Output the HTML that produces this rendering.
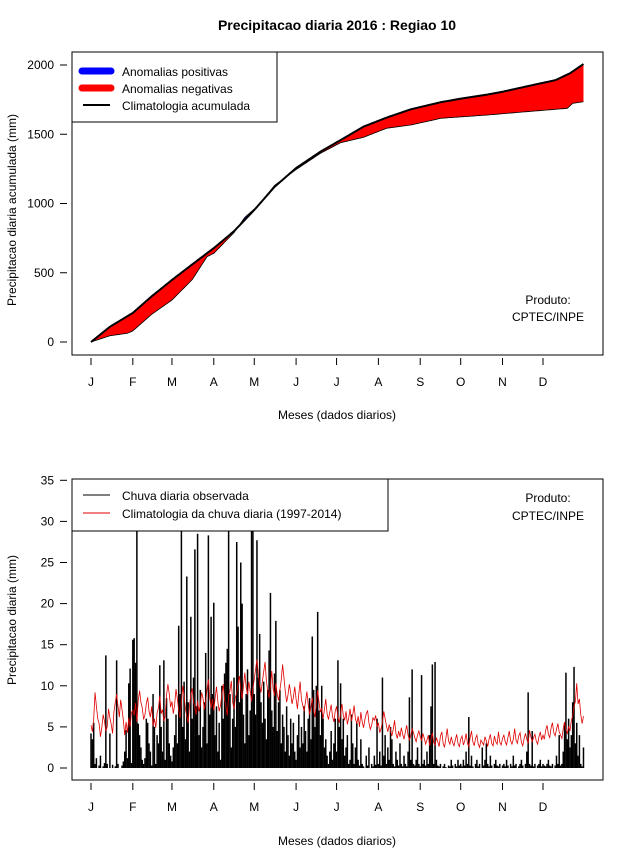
<!DOCTYPE html>
<html><head><meta charset="utf-8">
<style>
body{margin:0;background:#fff;}
svg{display:block;font-family:"Liberation Sans",Arial,sans-serif;}
</style></head>
<body>
<svg id="chart" width="640" height="850" viewBox="0 0 640 850" xmlns="http://www.w3.org/2000/svg">
<rect x="0" y="0" width="640" height="850" fill="#fff"/>
<text x="337" y="30" text-anchor="middle" font-size="14" font-weight="bold">Precipitacao diaria 2016 : Regiao 10</text>
<g id="top"></g>
<g id="bot"></g>
</svg>
<script>
// ---- top chart data (cumulative, mm) ----
const climDays=[1,15,32,46,61,76,92,107,122,137,153,171,186,203,220,238,260,275,295,306,332,345,356,366];
const climCum=[0,110,210,330,448,560,678,800,953,1120,1256,1374,1458,1555,1620,1680,1731,1757,1787,1807,1863,1890,1940,2007];
const obsDays=[1,15,28,32,46,61,76,87,92,107,115,122,125,137,153,171,186,203,220,238,255,260,295,324,354,358,366];
const obsCum=[0,45,63,80,200,303,450,616,640,790,900,960,985,1130,1245,1362,1439,1478,1543,1567,1603,1615,1639,1663,1687,1723,1735];
const topTicks=[0,500,1000,1500,2000];
const months=["J","F","M","A","M","J","J","A","S","O","N","D"];
const monthStart=[1,32,61,92,122,153,183,214,245,275,306,336];
// ---- bottom chart data (daily, mm) ----
const obsDaily=[
4.2,3.5,5.5,0.5,1.2,0,0.3,1.5,0,0.2,0.6,13.7,0.5,0,4.2,0,0.4,0,0.2,13.1,0.5,0,0,0.3,0.8,2.0,4.6,1.2,10.3,12.1,0.6,
15.6,15.8,12.8,40,5.4,4.0,2.5,1.0,0.5,1.2,6.0,5.5,3.0,2.0,0.3,9.0,5.0,0.5,4.0,3.0,12.5,5.0,2.0,13.1,1.0,8.5,6.0,3.0,1.5,
0.8,2.5,4.0,6.5,3.0,17.3,9.0,40,5.0,10.5,3.5,23.3,8.0,2.0,18.4,6.0,11.0,26.6,7.5,28.5,4.0,9.5,2.5,5.0,8.0,14.0,3.0,28.3,6.5,18.4,9.0,
20.1,4.0,7.5,2.0,5.5,1.0,10.0,6.0,11.5,12.8,14.5,40,9.0,2.5,6.0,11.0,5.0,27.5,17.2,8.0,25.0,20.0,6.5,3.0,9.0,12.0,4.0,7.0,40,40,
9.0,6.5,27.7,11.0,16.3,8.0,5.5,10.5,6.0,3.5,9.5,14.3,21.3,7.0,5.0,11.5,17.9,4.5,8.0,9.5,3.0,6.5,5.0,2.0,7.5,4.0,1.5,6.0,3.0,5.5,2.0,
1.0,4.0,6.5,2.5,5.0,3.0,7.5,4.5,2.0,6.0,8.5,3.5,16.0,9.5,5.0,10.0,19.0,7.0,4.0,10.0,6.0,2.5,3.5,1.5,0.5,2.0,4.5,1.0,3.0,6.0,
2.0,13.1,5.0,10.3,3.5,6.0,1.5,2.5,4.0,0.5,1.0,6.5,3.0,0.5,2.5,5.5,1.0,0.3,3.5,0.5,0.2,0,1.5,0.3,2.5,0,0.5,0.2,1.5,0.4,6.0,
0.5,2.0,0.3,11.0,1.5,4.0,0.5,2.5,1.0,5.0,3.5,0.5,0.2,2.0,1.0,0.3,3.0,0.5,0.2,1.5,0.5,0.2,2.0,8.6,1.0,12.0,0.5,0.3,1.0,2.5,0.5,
0.2,11.3,0.5,1.0,0.3,2.0,0.5,4.0,7.5,12.6,0.5,12.9,1.0,0.3,0.2,0.5,0,0.2,0.5,0.1,0,0.3,0.2,1.0,0.3,0,0.5,0.2,1.0,0.3,
0.5,0.2,1.0,0.3,2.0,0.5,6.2,0.3,1.5,0.2,0,0.5,1.0,0.2,0.5,0,2.5,0.3,1.0,3.0,0.5,0.2,1.5,0.3,0,0.5,1.0,0.3,0.2,0.5,0,
0.3,0.5,0.2,1.0,0.3,0,0.5,0.2,1.5,0.3,0.5,0,0.2,0.5,1.0,0.3,0,0.5,2.0,9.2,0.5,0.3,4.5,0.2,0.5,0,0.3,0.5,1.0,0.2,
0.5,0.3,0.2,0.5,1.0,0.3,0.2,0.5,0,0.3,1.5,0.5,4.0,0.3,0.5,2.0,5.5,11.6,3.5,6.0,2.5,4.0,8.0,12.3,3.0,5.5,1.5,4.0,0.5,0.2,2.5];
const climDaily=[
5.2,4.4,6.0,9.2,7.5,6.0,5.4,3.8,4.9,6.5,5.7,4.5,5.0,7.2,6.1,5.3,4.2,6.8,8.0,9.0,7.5,6.2,8.3,7.1,5.8,4.0,5.6,4.3,6.1,5.0,6.8,
7.0,6.4,7.9,5.6,8.2,9.4,8.0,7.3,5.9,6.5,7.8,8.6,6.9,6.2,7.5,5.1,6.0,4.9,6.7,7.3,8.8,6.6,7.1,5.7,6.3,8.9,10.2,9.0,7.4,
8.1,6.6,7.7,9.6,8.4,7.0,6.1,7.9,10.0,8.8,7.2,6.3,5.5,7.6,8.9,9.7,8.0,7.4,6.5,8.2,6.9,7.7,9.2,8.5,7.1,8.0,9.6,10.8,8.7,7.3,8.4,
7.0,8.5,9.9,8.1,6.9,7.6,9.0,10.2,8.3,7.5,6.4,8.8,9.4,10.6,8.0,7.2,8.6,9.1,10.3,11.2,9.5,8.4,10.0,11.6,9.8,8.9,10.5,9.3,8.1,9.7,
10.8,12.0,13.2,11.4,10.1,9.2,10.5,11.7,12.9,10.6,9.4,8.5,10.0,11.8,9.6,8.8,10.3,9.0,8.2,9.5,10.7,12.6,11.0,9.3,8.0,8.9,10.2,9.1,7.8,8.6,9.9,
8.4,7.2,9.0,10.5,8.3,7.6,6.9,8.1,9.3,7.7,6.5,7.4,8.6,7.0,6.2,7.9,9.5,8.0,6.8,7.3,6.0,7.1,8.4,6.6,5.9,6.8,7.7,6.3,5.6,6.9,
7.5,6.2,5.5,6.7,7.8,6.4,5.8,6.9,5.3,6.1,7.2,5.7,6.5,7.6,6.0,5.4,6.3,5.0,6.8,5.6,4.9,5.9,6.6,7.0,5.5,4.7,5.2,6.1,5.8,6.4,5.0,
5.5,4.3,4.8,5.6,6.9,6.0,5.1,4.4,5.3,4.6,3.9,4.7,5.8,4.2,3.6,4.5,3.8,4.9,4.1,3.5,4.4,5.2,4.0,3.4,3.9,4.8,4.3,3.7,3.2,4.0,4.5,
3.8,3.3,4.2,3.6,2.9,3.4,4.0,2.7,3.5,4.3,3.1,2.8,3.7,3.2,2.6,3.9,4.4,3.0,2.5,3.6,4.8,3.3,2.9,3.8,3.1,2.7,3.4,4.1,3.0,2.6,
3.5,3.9,2.8,3.3,4.2,3.0,2.6,3.7,4.5,3.2,2.7,3.6,4.0,2.9,2.5,3.4,3.1,2.8,3.8,3.3,2.6,3.5,4.1,3.0,2.7,3.9,3.2,2.9,4.4,3.1,2.8,
3.6,4.0,3.2,2.8,3.7,4.5,3.3,2.9,3.5,4.8,3.4,3.0,3.9,4.3,3.1,2.7,3.6,4.2,3.5,3.0,4.6,3.8,3.2,3.7,4.1,3.3,2.9,3.8,4.4,3.4,
4.0,3.5,4.6,5.2,4.1,3.7,4.9,5.5,4.3,3.9,4.7,5.4,4.4,4.0,3.6,4.8,5.6,4.6,4.2,5.1,4.5,5.8,6.3,7.5,8.1,10.3,7.8,8.4,6.5,5.4,6.3];
const botTicks=[0,5,10,15,20,25,30,35];

const NS="http://www.w3.org/2000/svg";
function mk(parent,tag,attrs,text){const e=document.createElementNS(NS,tag);for(const k in attrs)e.setAttribute(k,attrs[k]);if(text!==undefined)e.textContent=text;parent.appendChild(e);return e;}
const xDay=d=>91+(d-1)*(452/335);
const L=72,R=603;

function interp(days,vals,d){for(let i=0;i<days.length-1;i++){if(d<=days[i+1]){const t=(d-days[i])/(days[i+1]-days[i]);return vals[i]+t*(vals[i+1]-vals[i]);}}return vals[vals.length-1];}

function xAxis(g,bottom,labY,titleY){
  monthStart.forEach((d,i)=>{
    const x=xDay(d);
    const t=mk(g,'line',{x1:x,x2:x,y1:bottom+3,y2:bottom+10,stroke:'#000','stroke-width':1});
    
    
    const l=mk(g,'text',{x:x,y:labY,'text-anchor':'middle','font-size':12},months[i]);
    
    
  });
  const tt=mk(g,'text',{x:337,y:titleY,'text-anchor':'middle','font-size':12},'Meses (dados diarios)');
  
  
}
function yAxis(g,ticks,yf){
  ticks.forEach(v=>{
    const y=yf(v);
    const t=mk(g,'line',{x1:60,x2:67,y1:y,y2:y,stroke:'#000','stroke-width':1});
    
    
    const l=mk(g,'text',{x:54,y:y+4,'text-anchor':'end','font-size':12},String(v));
    
    
  });
}

// ===== TOP =====
(function(){
  const g=document.getElementById('top');
  const T=52,B=355;
  const y=v=>342-v*(277/2000);
  yAxis(g,topTicks,y);
  const yl=mk(g,'text',{x:0,y:0,transform:'translate(16,210) rotate(-90)','text-anchor':'middle','font-size':12},'Precipitacao diaria acumulada (mm)');
  
  
  xAxis(g,B,386,419);
  const c=[],o=[];
  for(let d=1;d<=366;d++){c.push(interp(climDays,climCum,d));o.push(interp(obsDays,obsCum,d));}
  let start=0;
  for(let i=1;i<=366;i++){
    const s0=(o[start]-c[start])>0;
    const end=(i===366)||((o[i]-c[i]>0)!==s0);
    if(end){
      const last=Math.min(i,365);
      let pts=[];
      for(let k=start;k<=last;k++)pts.push(xDay(k+1).toFixed(2)+','+y(o[k]).toFixed(2));
      for(let k=last;k>=start;k--)pts.push(xDay(k+1).toFixed(2)+','+y(c[k]).toFixed(2));
      const p=mk(g,'polygon',{points:pts.join(' '),fill:s0?'#0000ff':'#ff0000',stroke:'none'});
      
      
      start=i;
    }
  }
  const op=mk(g,'polyline',{points:o.map((v,i)=>xDay(i+1).toFixed(2)+','+y(v).toFixed(2)).join(' '),fill:'none',stroke:'#000','stroke-width':0.8});
  
  
  const cp=mk(g,'polyline',{points:c.map((v,i)=>xDay(i+1).toFixed(2)+','+y(v).toFixed(2)).join(' '),fill:'none',stroke:'#000','stroke-width':2});
  
  
  const box=mk(g,'rect',{x:L,y:T,width:R-L,height:B-T,fill:'none',stroke:'#000','stroke-width':1});
  
  
  const lg=mk(g,'g',{});
  
  
  mk(lg,'rect',{x:L,y:T,width:205,height:70,fill:'#fff',stroke:'#000','stroke-width':1});
  const items=[['#0000ff',7,'Anomalias positivas'],['#ff0000',7,'Anomalias negativas'],['#000',2,'Climatologia acumulada']];
  items.forEach((it,i)=>{
    const yy=71+i*17;
    const e=mk(lg,'g',{});
    
    
    mk(e,'line',{x1:it[1]>3?82:83,x2:it[1]>3?111:110,y1:yy,y2:yy,stroke:it[0],'stroke-width':it[1],'stroke-linecap':it[1]>3?'round':'butt'});
    mk(e,'text',{x:122,y:yy+5,'font-size':12},it[2]);
  });
  const p1=mk(g,'text',{x:548,y:304,'text-anchor':'middle','font-size':12},'Produto:');
  
  
  const p2=mk(g,'text',{x:548,y:321,'text-anchor':'middle','font-size':12},'CPTEC/INPE');
  
  
})();

// ===== BOTTOM =====
(function(){
  const g=document.getElementById('bot');
  const T=479,B=780;
  const y=v=>768-v*(41.1/5);
  yAxis(g,botTicks,y);
  const yl=mk(g,'text',{x:0,y:0,transform:'translate(16,620) rotate(-90)','text-anchor':'middle','font-size':12},'Precipitacao diaria (mm)');
  
  
  xAxis(g,B,811,845);
  const cp=mk(g,'clipPath',{id:'clipB'});
  mk(cp,'rect',{x:L,y:T,width:R-L,height:B-T});
  const bars=mk(g,'g',{'clip-path':'url(#clipB)'});
  
  
  obsDaily.forEach((v,i)=>{
    const x=xDay(i+1);
    const b=mk(bars,'line',{x1:x,x2:x,y1:y(0),y2:y(v),stroke:'#000','stroke-width':1.5});
    
    
  });
  const cl=mk(g,'polyline',{points:climDaily.map((v,i)=>xDay(i+1).toFixed(2)+','+y(v).toFixed(2)).join(' '),fill:'none',stroke:'#e00000','stroke-width':0.8});
  
  
  const box=mk(g,'rect',{x:L,y:T,width:R-L,height:B-T,fill:'none',stroke:'#000','stroke-width':1});
  
  
  const lg=mk(g,'g',{});
  
  
  mk(lg,'rect',{x:L,y:T,width:316,height:52,fill:'#fff',stroke:'#000','stroke-width':1});
  [['#000','Chuva diaria observada'],['#e00000','Climatologia da chuva diaria (1997-2014)']].forEach((it,i)=>{
    const yy=495+i*18;
    const e=mk(lg,'g',{});
    
    
    mk(e,'line',{x1:83,x2:110,y1:yy,y2:yy,stroke:it[0],'stroke-width':1});
    mk(e,'text',{x:122,y:yy+5,'font-size':12},it[1]);
  });
  const p1=mk(g,'text',{x:548,y:502,'text-anchor':'middle','font-size':12},'Produto:');
  
  
  const p2=mk(g,'text',{x:548,y:520,'text-anchor':'middle','font-size':12},'CPTEC/INPE');
  
  
})();
</script>
</body></html>
